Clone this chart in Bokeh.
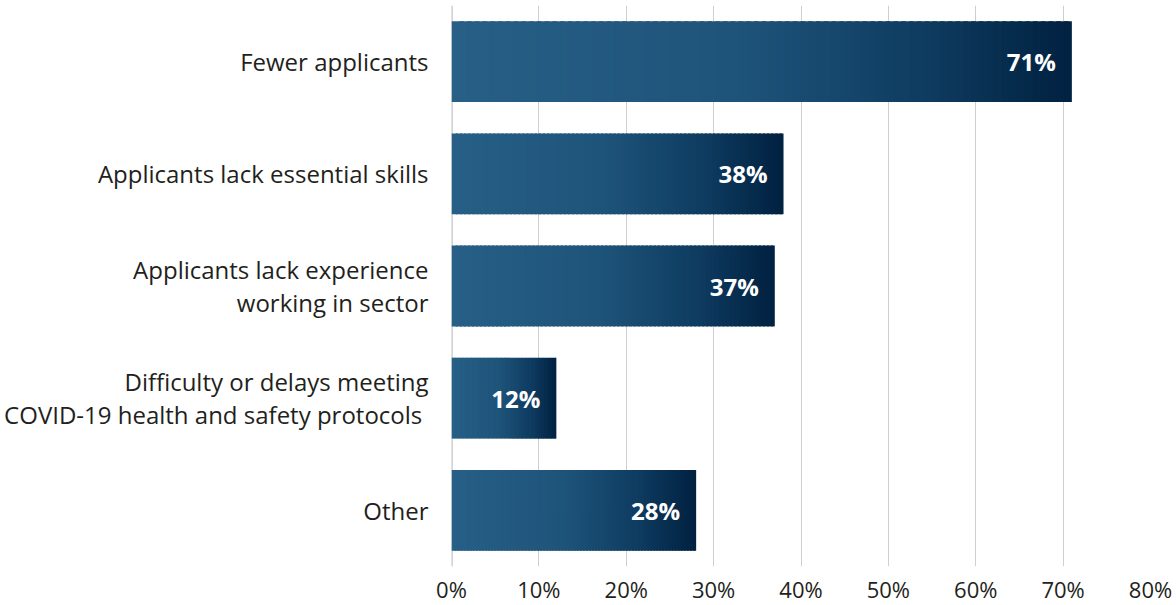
from bokeh.plotting import figure
from bokeh.models import FactorRange, Range1d, ColumnDataSource, FixedTicker, NumeralTickFormatter, Span
from bokeh.core.properties import value
from bokeh.embed import file_html
from bokeh.resources import INLINE

categories = [
    "Fewer applicants",
    "Applicants lack essential skills",
    "Applicants lack experience\nworking in sector",
    "Difficulty or delays meeting\nCOVID-19 health and safety protocols ",
    "Other",
]
shares = [0.71, 0.38, 0.37, 0.12, 0.28]
tick_values = [0, 0.1, 0.2, 0.3, 0.4, 0.5, 0.6, 0.7, 0.8]

FONT = "Open Sans"
TEXT = "#231f20"

# gradient stops (fraction of bar length, rgb)
stops = [(0.0, (39, 95, 134)), (0.45, (31, 84, 122)), (0.75, (15, 61, 98)), (1.0, (1, 33, 64))]

def grad(t):
    for (t0, c0), (t1, c1) in zip(stops[:-1], stops[1:]):
        if t <= t1:
            f = (t - t0) / (t1 - t0) if t1 > t0 else 0
            return "#%02x%02x%02x" % tuple(int(round(a + (b - a) * f)) for a, b in zip(c0, c1))
    return "#%02x%02x%02x" % stops[-1][1]

p = figure(
    frame_width=699, frame_height=561,
    y_range=FactorRange(factors=list(reversed(categories))),
    x_range=Range1d(0, 0.8),
    output_backend="svg", toolbar_location=None,
    min_border_left=451, min_border_right=24, min_border_top=5, min_border_bottom=36,
)
p.outline_line_color = None
p.background_fill_color = "white"
p.border_fill_color = "white"

# gradient bars as thin slices
N = 80
left, right, ys, cols = [], [], [], []
for cat, v in zip(categories, shares):
    for i in range(N):
        left.append(v * i / N)
        right.append(v * (i + 1) / N + (v / N * 0.6 if i < N - 1 else 0))
        ys.append(cat)
        cols.append(grad((i + 0.5) / N))
src = ColumnDataSource(dict(left=left, right=right, y=ys, c=cols))
p.hbar(y="y", left="left", right="right", height=0.72, fill_color="c", line_color=None, source=src)

# value labels
lab = ColumnDataSource(dict(x=shares, y=categories, t=["%d%%" % round(v * 100) for v in shares]))
p.text(x="x", y="y", text="t", source=lab, x_offset=-16, text_align="right", text_baseline="middle",
       text_color="white", text_font=value(FONT), text_font_style="bold", text_font_size="24px")

# zero line thicker
p.add_layout(Span(location=0, dimension="height", line_color="#c6c6c6", line_width=2.5, level="underlay"))

p.xgrid.ticker = FixedTicker(ticks=tick_values)
p.xgrid.grid_line_color = "#cfcfcf"
p.xgrid.grid_line_width = 1
p.ygrid.grid_line_color = None

p.xaxis.ticker = FixedTicker(ticks=tick_values)
p.xaxis.formatter = NumeralTickFormatter(format="0%")
p.xaxis.axis_line_color = None
p.xaxis.major_tick_line_color = None
p.xaxis.minor_tick_line_color = None
p.xaxis.major_label_text_font = FONT
p.xaxis.major_label_text_font_size = "22px"
p.xaxis.major_label_text_color = TEXT
p.xaxis.major_label_standoff = 1

p.yaxis.axis_line_color = None
p.yaxis.major_tick_line_color = None
p.yaxis.minor_tick_line_color = None
p.yaxis.major_label_text_font = FONT
p.yaxis.major_label_text_font_size = "24px"
p.yaxis.major_label_text_color = TEXT
p.yaxis.major_label_standoff = 17
p.yaxis.major_label_text_line_height = 1.0

open("out.html", "w").write(file_html(p, INLINE))
